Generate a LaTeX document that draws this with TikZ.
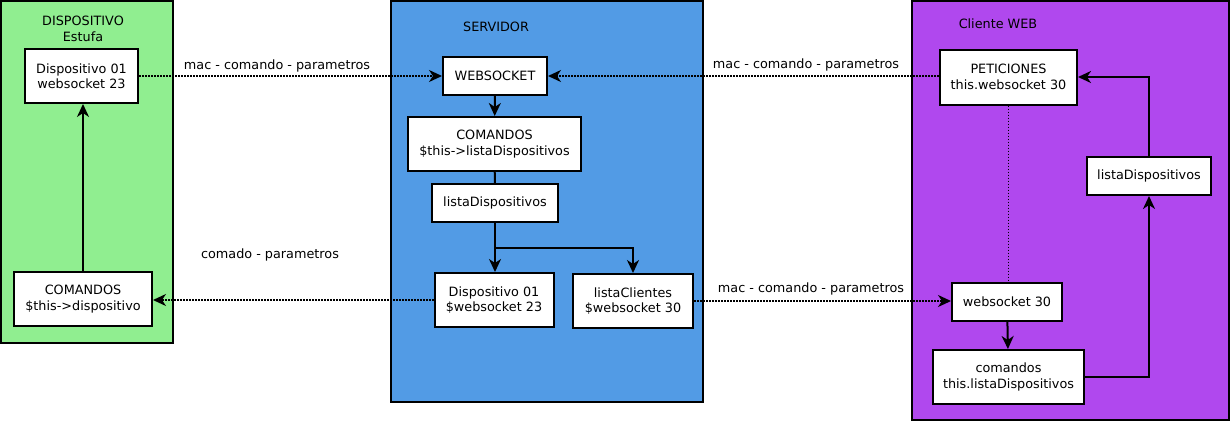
\documentclass[tikz,border=0pt]{standalone}
\usepackage{fontspec}
\setmainfont{DejaVu Sans}
\usetikzlibrary{arrows.meta, positioning}

\definecolor{devgreen}{RGB}{144,238,144}
\definecolor{srvblue}{RGB}{82,155,229}
\definecolor{webpurple}{RGB}{176,72,238}

\tikzset{
    zone/.style={draw=black, line width=2pt},
    box/.style={draw=black, fill=white, line width=2pt, inner sep=0pt, align=center,
        font=\fontsize{12.8}{15.5}\selectfont},
    txt/.style={inner sep=0pt, align=center, font=\fontsize{12.8}{15.5}\selectfont},
    solidarrow/.style={line width=2pt, -{Stealth[length=13pt, width=12pt, inset=4pt]}},
    dotline/.style={line width=1.8pt, dash pattern=on 1.6pt off 1.4pt},
    dotarrow/.style={dotline, -{Stealth[length=13pt, width=12pt, inset=4pt]}}
}

\begin{document}
\begin{tikzpicture}[x=1pt, y=-1pt]
    \useasboundingbox (0, 0) rectangle (1230, 421);

    % zonas
    \draw[zone, fill=devgreen] (1, 1) rectangle (173, 343);
    \draw[zone, fill=srvblue] (391, 1) rectangle (703, 402);
    \draw[zone, fill=webpurple] (912, 1) rectangle (1229, 420);

    \node[txt] (devtitle) at (83, 29) {DISPOSITIVO\\Estufa};
    \node[txt] (srvtitle) at (496, 27) {SERVIDOR};
    \node[txt] (webtitle) at (998, 24) {Cliente WEB};

    % dispositivo
    \node[box, minimum width=113pt, minimum height=54pt] (dev) at (81.5, 76) {Dispositivo 01\\websocket 23};
    \node[box, minimum width=138pt, minimum height=54pt] (cmd) at (83, 299) {COMANDOS\\\$this->dispositivo};

    % servidor
    \node[box, minimum width=104pt, minimum height=38pt] (ws) at (495, 76) {WEBSOCKET};
    \node[box, minimum width=173pt, minimum height=54pt] (scmd) at (494.5, 144) {COMANDOS\\\$this->listaDispositivos};
    \node[box, minimum width=126pt, minimum height=38pt] (slist) at (495, 203) {listaDispositivos};
    \node[box, minimum width=119pt, minimum height=54pt] (srvdev) at (494, 300) {Dispositivo 01\\\$websocket 23};
    \node[box, minimum width=120pt, minimum height=54pt] (clients) at (633, 301) {listaClientes\\\$websocket 30};
    \coordinate (split) at (495, 248);

    % cliente web
    \node[box, minimum width=137pt, minimum height=55pt] (pet) at (1008.5, 77) {PETICIONES\\this.websocket 30};
    \node[box, minimum width=124pt, minimum height=38pt] (clist) at (1149, 176) {listaDispositivos};
    \node[box, minimum width=110pt, minimum height=38pt] (cws) at (1007, 302) {websocket 30};
    \node[box, minimum width=151pt, minimum height=54pt] (ccmd) at (1008.5, 377) {comandos\\this.listaDispositivos};

    % etiquetas
    \node[txt] (lbla) at (277, 66) {mac - comando - parametros};
    \node[txt] (lblb) at (270, 255) {comado - parametros};
    \node[txt] (lblc) at (806, 65) {mac - comando - parametros};
    \node[txt] (lbld) at (811, 289) {mac - comando - parametros};

    % conexiones
    \draw[dotarrow] (dev) -- (ws);
    \draw[dotarrow] (pet.west |- ws) -- (ws.east);
    \draw[dotarrow] (srvdev.west) -- (srvdev.west -| cmd.east);
    \draw[dotarrow] (clients.east) -- (clients.east -| cws.west);

    \draw[solidarrow] (cmd.north) -- (cmd.north |- dev.south);

    \draw[solidarrow] (ws) -- (scmd);
    \draw[line width=2pt] (scmd) -- (slist);
    \draw[solidarrow] (slist.south) -- (slist.south |- srvdev.north);
    \draw[solidarrow] (split) -| (clients.north);

    \draw[dotline] (pet.south) -- (pet.south |- cws.north);
    \draw[solidarrow] (cws) -- (ccmd);
    \draw[solidarrow] (ccmd.east) -| (clist.south);
    \draw[solidarrow] (clist.north) |- (pet.east);
\end{tikzpicture}
\end{document}
